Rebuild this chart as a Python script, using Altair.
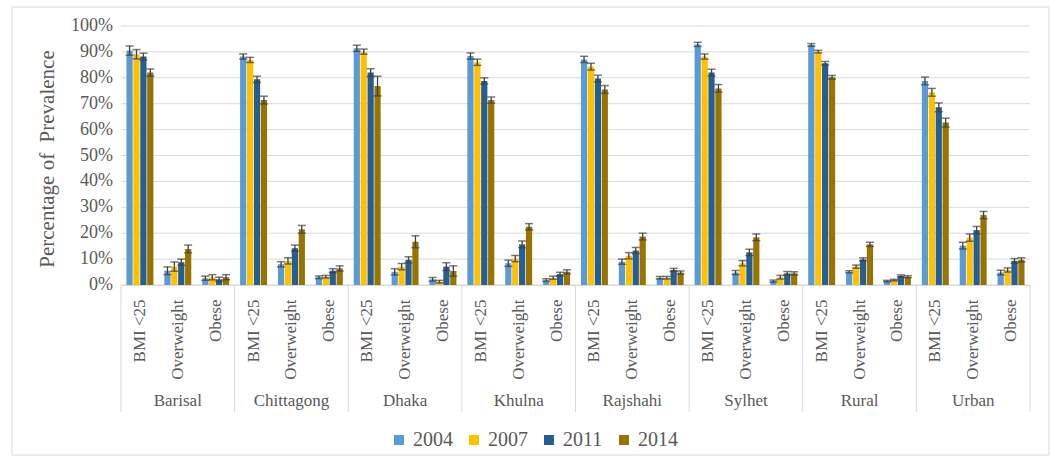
import altair as alt
import pandas as pd

# Regions / settings and the three BMI classes shown under each
regions = ["Barisal", "Chittagong", "Dhaka", "Khulna", "Rajshahi", "Sylhet", "Rural", "Urban"]
classes = ["BMI <25", "Overweight", "Obese"]
years = ["2004", "2007", "2011", "2014"]
colors = ["#5B9BD5", "#FFC000", "#255E91", "#997300"]

# Prevalence (%) per survey year, ordered region by region, class by class
prev_2004 = [90.5, 5.5, 2.6, 88.2, 8.0, 3.0, 91.4, 5.1, 2.2, 88.4, 8.4, 1.9,
             87.1, 9.0, 2.8, 92.9, 4.8, 1.5, 92.7, 5.1, 1.5, 78.8, 15.2, 4.8]
prev_2007 = [89.1, 7.1, 3.0, 86.9, 9.3, 3.2, 90.1, 7.1, 1.3, 86.0, 10.2, 2.8,
             84.3, 11.3, 2.8, 88.2, 8.4, 3.0, 90.1, 7.1, 1.9, 74.4, 18.3, 5.8]
prev_2011 = [88.2, 8.8, 2.2, 79.4, 14.2, 5.5, 82.0, 9.7, 7.1, 78.8, 15.7, 4.2,
             79.7, 13.3, 5.8, 82.0, 12.6, 4.5, 85.6, 9.9, 3.5, 68.6, 21.2, 9.3]
prev_2014 = [82.0, 13.9, 3.0, 71.4, 21.5, 6.4, 76.8, 16.7, 5.4, 71.4, 22.5, 5.1,
             75.5, 18.7, 4.8, 75.9, 18.4, 4.5, 80.2, 15.7, 3.2, 62.7, 27.0, 9.7]

# Half-width of the error bars (percentage points), same ordering
err_2004 = [1.8, 1.5, 0.8, 1.0, 1.0, 0.5, 1.2, 1.2, 0.7, 1.2, 1.2, 0.5,
            1.2, 1.0, 0.5, 0.8, 0.8, 0.4, 0.5, 0.4, 0.3, 1.5, 1.3, 0.9]
err_2007 = [1.8, 1.8, 1.0, 1.0, 1.2, 0.5, 1.0, 1.2, 0.5, 1.2, 1.2, 0.6,
            1.3, 1.2, 0.5, 1.0, 1.0, 0.7, 0.5, 0.6, 0.3, 1.5, 1.4, 0.8]
err_2011 = [1.3, 1.2, 0.8, 1.2, 1.2, 0.8, 1.5, 1.2, 1.5, 1.2, 1.3, 0.7,
            1.3, 1.2, 0.6, 1.3, 1.2, 0.7, 0.7, 0.6, 0.4, 1.7, 1.4, 0.9]
err_2014 = [1.4, 1.5, 1.0, 1.5, 1.5, 1.0, 3.8, 2.3, 2.0, 1.2, 1.2, 0.8,
            1.5, 1.3, 0.6, 1.5, 1.3, 0.6, 0.7, 0.8, 0.4, 1.7, 1.4, 0.8]

# Y axis ticks, in percent
y_ticks = [0, 10, 20, 30, 40, 50, 60, 70, 80, 90, 100]

prev = {"2004": prev_2004, "2007": prev_2007, "2011": prev_2011, "2014": prev_2014}
errs = {"2004": err_2004, "2007": err_2007, "2011": err_2011, "2014": err_2014}

keys = [f"{r}|{c}" for r in regions for c in classes]

rows = []
for y in years:
    for i, k in enumerate(keys):
        v = prev[y][i]
        e = errs[y][i]
        rows.append({"key": k, "year": y, "value": v, "lo": v - e, "hi": v + e})
df = pd.DataFrame(rows)

groups = pd.DataFrame({
    "region": regions,
    "mid": [f"{r}|{classes[1]}" for r in regions],
    "first": [f"{r}|{classes[0]}" for r in regions],
})
last = pd.DataFrame({"key": [keys[-1]]})
ticks_df = pd.DataFrame({"tick": y_ticks, "label": [f"{t}%" for t in y_ticks]})

FONT = "Liberation Serif"
TXT = "#595959"
GRID = "#D9D9D9"
W, H = 909, 259

xscale = alt.Scale(domain=keys, paddingInner=0, paddingOuter=0)
yscale = alt.Scale(domain=[0, 100], nice=False, zero=True)
xoff = alt.XOffset("year:N", sort=years,
                   scale=alt.Scale(domain=years, paddingInner=0.1, paddingOuter=0.79))

x_axis = alt.Axis(
    title=None, labelExpr="split(datum.value, '|')[1]", labelAngle=270,
    labelFont=FONT, labelFontSize=17, labelColor=TXT, labelPadding=14,
    ticks=False, grid=False, domainColor=GRID, domainWidth=1, labelOverlap=False,
)
# Only the title comes from the y axis; gridlines and tick labels are layers below
y_axis = alt.Axis(
    labels=False, grid=False, domain=False, ticks=False,
    title="Percentage of\u00a0 Prevalence", titleFont=FONT,
    titleFontSize=21, titleFontWeight="normal", titleColor=TXT,
    titleX=-74, titleY=H / 2 + 3, titleBaseline="middle", titleAlign="center",
)

X = alt.X("key:N", scale=xscale, sort=keys, axis=x_axis)
base = alt.Chart(df)

grid = alt.Chart(ticks_df).mark_rule(color=GRID, strokeWidth=1).encode(
    y=alt.Y("tick:Q", scale=yscale, axis=y_axis),
    x=alt.value(0),
    x2=alt.value(W),
)
grid_labels = alt.Chart(ticks_df).mark_text(
    font=FONT, fontSize=18, color=TXT, align="right", baseline="middle", dx=-8
).encode(
    y=alt.Y("tick:Q", scale=yscale, axis=y_axis),
    x=alt.value(0),
    text="label:N",
)

bars = base.mark_bar().encode(
    x=X,
    xOffset=xoff,
    y=alt.Y("value:Q", scale=yscale, axis=y_axis),
    color=alt.Color(
        "year:N",
        scale=alt.Scale(domain=years, range=colors),
        legend=alt.Legend(
            orient="none", legendX=268, legendY=404, direction="horizontal",
            title=None, symbolType="square", symbolSize=100, symbolStrokeWidth=0,
            labelFont=FONT, labelFontSize=20, labelColor=TXT, labelOffset=4,
            columnPadding=11,
        ),
    ),
)

err_line = base.mark_rule(color="#404040", strokeWidth=1.3).encode(
    x=X,
    xOffset=xoff,
    y=alt.Y("lo:Q", scale=yscale, axis=y_axis),
    y2="hi:Q",
)
cap_lo = base.mark_tick(color="#404040", thickness=1.5, size=8).encode(
    x=X,
    xOffset=xoff,
    y=alt.Y("lo:Q", scale=yscale, axis=y_axis),
)
cap_hi = base.mark_tick(color="#404040", thickness=1.5, size=8).encode(
    x=X,
    xOffset=xoff,
    y=alt.Y("hi:Q", scale=yscale, axis=y_axis),
)

# Vertical dividers between the region groups beneath the axis
dividers = alt.Chart(groups).mark_rule(color=GRID, strokeWidth=1).encode(
    x=alt.X("first:N", scale=xscale, sort=keys, axis=x_axis, bandPosition=0),
    y=alt.value(H),
    y2=alt.value(H + 127),
)
divider_end = alt.Chart(last).mark_rule(color=GRID, strokeWidth=1).encode(
    x=alt.X("key:N", scale=xscale, sort=keys, axis=x_axis, bandPosition=1),
    y=alt.value(H),
    y2=alt.value(H + 127),
)

# Region names centred under each group
region_labels = alt.Chart(groups).mark_text(
    font=FONT, fontSize=17, color=TXT, baseline="middle", align="center"
).encode(
    x=alt.X("mid:N", scale=xscale, sort=keys, axis=x_axis, bandPosition=0.5),
    y=alt.value(H + 116),
    text="region:N",
)

# Light frame around the whole figure
frame = alt.Chart(last).mark_rect(fill=None, stroke=GRID, strokeWidth=1).encode(
    x=alt.value(-109), x2=alt.value(928), y=alt.value(-19), y2=alt.value(429)
)

chart = alt.layer(
    grid, grid_labels, bars, err_line, cap_lo, cap_hi,
    dividers, divider_end, region_labels, frame
).properties(
    width=W, height=H,
    autosize=alt.AutoSizeParams(type="none"),
    padding={"left": 121, "top": 26, "right": 20, "bottom": 176},
    background="white",
).configure(
    font=FONT
).configure_view(
    stroke=None
)

chart.save("out.html", embed_options={"renderer": "svg", "actions": False})
